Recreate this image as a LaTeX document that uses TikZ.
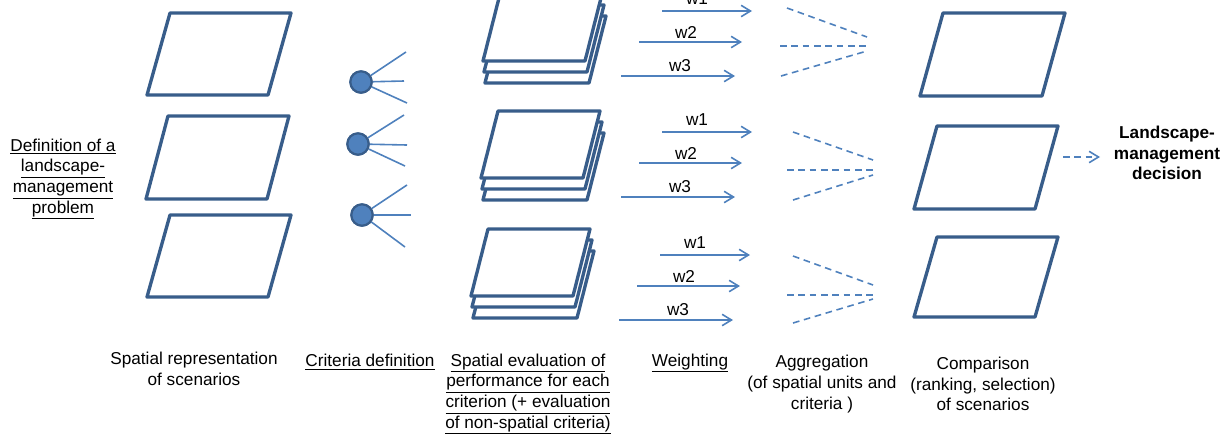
\documentclass[tikz,border=0pt]{standalone}
\usepackage{fontspec}
\setmainfont{Liberation Sans}
\usetikzlibrary{arrows.meta}
\definecolor{dkblue}{RGB}{56,93,138}
\definecolor{ltblue}{RGB}{79,129,189}
\definecolor{ptfill}{RGB}{79,129,189}
\tikzset{
  parabox/.style={draw=dkblue, line width=2.5pt, fill=white, line join=round},
  critline/.style={draw=ltblue, line width=1.2pt},
  critdot/.style={circle, draw=dkblue, line width=1.6pt, fill=ptfill, minimum size=16pt, inner sep=0pt},
  warrow/.style={draw=ltblue, line width=1.2pt, -{Straight Barb[length=7pt,width=8.5pt]}},
  wlabel/.style={font=\fontsize{12.9}{15.5}\selectfont, inner sep=0pt},
  agg/.style={draw=ltblue, line width=1.2pt, dash pattern=on 5pt off 3.5pt},
  txt/.style={font=\fontsize{12.9}{15.5}\selectfont, align=center, inner sep=0pt},
  btxt/.style={font=\bfseries\fontsize{12.9}{15.5}\selectfont, align=center, inner sep=0pt},
}
\newcommand{\sheet}[5]{\draw[parabox] (#1,#2) -- ++(#3,0) -- ++(#5,-#4) -- ++(-#3,0) -- cycle;}
\newcommand{\stackof}[2]{%
  \sheet{#1+2}{#2+22}{104}{67}{17}
  \sheet{#1+1}{#2+11}{103}{67}{17}
  \sheet{#1}{#2}{102}{67}{17}}
\begin{document}
\begin{tikzpicture}[x=0.75pt,y=-0.75pt]
\useasboundingbox (0,0) rectangle (1231,433);

% column 1: scenarios
\sheet{147}{95}{121}{82}{23}
\sheet{146}{199}{121}{83}{22}
\sheet{147}{297}{121}{82}{23}

% column 2: criteria definition
\foreach \n/\cx/\cy/\ax/\ay/\bx/\by/\ccx/\ccy in {
  1/361/82/406/52/404/81/407/103,
  2/358/144/404/115/407/145/405/166,
  3/362/215/407/185/411/215/405/247}{
  \coordinate (c\n a) at (\ax,\ay);
  \coordinate (c\n b) at (\bx,\by);
  \coordinate (c\n c) at (\ccx,\ccy);
  \node[critdot] (c\n) at (\cx,\cy) {};
  \draw[critline] (c\n) -- (c\n a);
  \draw[critline] (c\n) -- (c\n b);
  \draw[critline] (c\n) -- (c\n c);
  \node[critdot] at (c\n) {};
}

% column 3: stacks
\stackof{483}{61}
\stackof{481}{178}
\stackof{471}{296}

% column 4: weighting arrows
\foreach \g/\ya/\yb/\yc/\dx in {1/11/42/76/0, 2/132/163/197/0, 3/255/286/320/-2}{
  \coordinate (g\g s1) at (662+\dx,\ya);
  \coordinate (g\g e1) at (752+\dx,\ya);
  \coordinate (g\g s2) at (639+\dx,\yb);
  \coordinate (g\g e2) at (742+\dx,\yb);
  \coordinate (g\g s3) at (621+\dx,\yc);
  \coordinate (g\g e3) at (735+\dx,\yc);
  \draw[warrow] (g\g s1) -- (g\g e1);
  \draw[warrow] (g\g s2) -- (g\g e2);
  \draw[warrow] (g\g s3) -- (g\g e3);
  \node[wlabel] (g\g l1) at (697+\dx,\ya-12) {w1};
  \node[wlabel] (g\g l2) at (686+\dx,\yb-10) {w2};
  \node[wlabel] (g\g l3) at (680+\dx,\yc-10) {w3};
}

% column 5: aggregation
\coordinate (a1u) at (787,8);   \coordinate (a1ue) at (867,37);
\coordinate (a1m) at (780,46);  \coordinate (a1me) at (867,46);
\coordinate (a1l) at (781,76);  \coordinate (a1le) at (867,51);
\coordinate (a2u) at (793,132); \coordinate (a2ue) at (873,160);
\coordinate (a2m) at (787,170); \coordinate (a2me) at (873,170);
\coordinate (a2l) at (793,200); \coordinate (a2le) at (873,175);
\coordinate (a3u) at (793,256); \coordinate (a3ue) at (873,285);
\coordinate (a3m) at (787,295); \coordinate (a3me) at (873,295);
\coordinate (a3l) at (793,323); \coordinate (a3le) at (873,299);
\foreach \g in {1,2,3}{
  \draw[agg] (a\g u) -- (a\g ue);
  \draw[agg] (a\g m) -- (a\g me);
  \draw[agg] (a\g l) -- (a\g le);
}

% column 6: comparison
\sheet{920}{96}{122}{83}{23}
\sheet{914}{209}{121}{83}{23}
\sheet{914}{317}{121}{80}{23}

% decision
\coordinate (dstart) at (1063,157);
\node[btxt] (decision) at (1167,153) {Landscape-\\management\\decision};
\draw[agg, -{Straight Barb[length=7pt,width=8.5pt]}] (dstart) -- (1100,157);

% left problem label
\node[txt] (problem) at (63,179) {\underline{Definition of a}\\\underline{landscape-}\\\underline{management}\\\underline{problem}};

% bottom labels
\node[txt] (lab1) at (194,369) {Spatial representation\\of scenarios};
\node[txt] (lab2) at (370,362) {\underline{Criteria definition}};
\node[txt] (lab3) at (528,394) {\underline{Spatial evaluation of}\\\underline{performance for each}\\\underline{criterion (+ evaluation}\\\underline{of non-spatial criteria)}};
\node[txt] (lab4) at (690,363) {\underline{Weighting}};
\node[txt] (lab5) at (822,384) {Aggregation\\(of spatial units and\\criteria )};
\node[txt] (lab6) at (983,384) {Comparison\\(ranking, selection)\\of scenarios};
\end{tikzpicture}
\end{document}
